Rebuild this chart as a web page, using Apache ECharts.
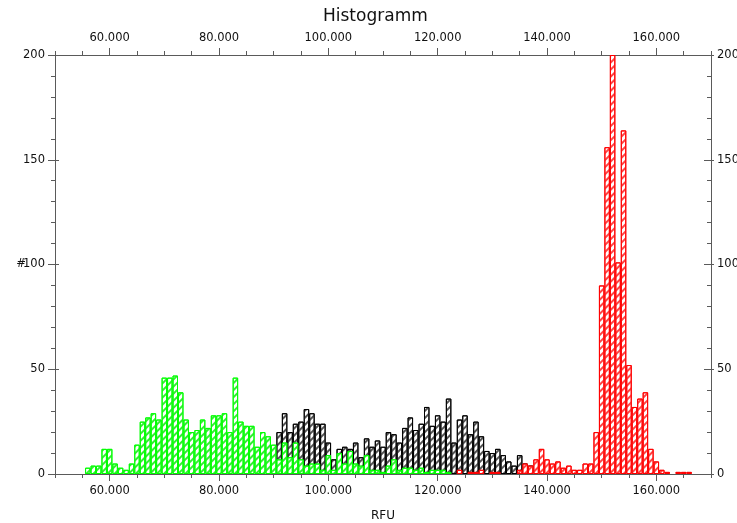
<!DOCTYPE html>
<html>
<head>
<meta charset="utf-8">
<script src="https://cdn.jsdelivr.net/npm/echarts@6/dist/echarts.min.js"></script>
<style>
  html, body { margin: 0; padding: 0; background: #fff; }
  #chart { width: 737px; height: 523px; }
</style>
</head>
<body>
<div id="chart"></div>
<script>
// Histogram of RFU values, bins of 1.000 RFU, three populations.
const binWidth = 1000;

const greenStart = 56000;
const greenCounts = [3, 4, 4, 12, 12, 5, 3, 2, 5, 14,
  25, 27, 29, 26, 46, 46, 47, 39, 26, 20,
  21, 26, 22, 28, 28, 29, 20, 46, 25, 23,
  23, 13, 20, 18, 14, 7, 15, 8, 15, 7,
  4, 5, 5, 2, 9, 2, 10, 5, 11, 5,
  4, 9, 2, 2, 1, 4, 7, 2, 3, 3,
  2, 3, 1, 2, 2, 2, 1];

const blackStart = 91000;
const blackCounts = [20, 29, 20, 24, 25, 31, 29, 24, 24, 15,
  7, 12, 13, 12, 15, 8, 17, 13, 16, 13,
  20, 19, 15, 22, 27, 21, 24, 32, 23, 28,
  25, 36, 15, 26, 28, 19, 25, 18, 11, 10,
  12, 9, 6, 4, 9, 5, 4];

const redStart = 124000;
const redCounts = [2, 0, 1, 1, 2, 0, 1, 1, 0, 0,
  0, 2, 5, 4, 7, 12, 7, 5, 6, 3,
  4, 2, 2, 5, 5, 20, 90, 156, 200, 101,
  164, 52, 32, 36, 39, 12, 6, 2, 1, 0,
  1, 1, 1];

const xMin = 50000, xMax = 170000;
const xLabelValues = [60000, 80000, 100000, 120000, 140000, 160000];
const yMin = 0, yMax = 200, yStep = 50;

const grid = { left: 55, right: 26, top: 55, bottom: 49, outerBoundsMode: 'none', containLabel: false };
const plotWidth = 737 - grid.left - grid.right;
const barPx = plotWidth * binWidth / (xMax - xMin);

function toPairs(start, counts) {
  const out = [];
  counts.forEach((c, i) => { if (c > 0) out.push([start + i * binWidth, c]); });
  return out;
}

function fmtDE(v) {
  return String(v).replace(/\B(?=(\d{3})+(?!\d))/g, '.');
}

const font = 'DejaVu Sans';
const axisColor = '#5a5a5a';
const textColor = '#111';

function hatch(border, line) {
  return {
    color: '#ffffff',
    borderColor: border,
    borderWidth: 1,
    decal: {
      symbol: 'rect',
      symbolSize: 1,
      dashArrayX: [1, 0],
      dashArrayY: [1.4, 2.4],
      rotation: -Math.PI / 4,
      color: line
    }
  };
}

function minorX(position) {
  return {
    type: 'value', position: position, min: xMin, max: xMax, interval: 5000,
    axisLine: { show: true, onZero: false, lineStyle: { color: axisColor, width: 1 } },
    axisTick: { show: true, length: 4, lineStyle: { color: axisColor } },
    axisLabel: { show: false },
    splitLine: { show: false }
  };
}
function majorX(position, withName) {
  const ax = {
    type: 'value', position: position, min: xMin, max: xMax, interval: 5000,
    axisLine: { show: false, onZero: false },
    axisTick: { show: true, length: 7, customValues: xLabelValues, lineStyle: { color: axisColor } },
    axisLabel: {
      show: true, customValues: xLabelValues, margin: 11,
      formatter: fmtDE, color: textColor, fontFamily: font, fontSize: 11.5
    },
    splitLine: { show: false }
  };
  if (withName) {
    ax.name = 'RFU';
    ax.nameLocation = 'middle';
    ax.nameGap = 36;
    ax.nameMoveOverlap = false;
    ax.nameTextStyle = { color: textColor, fontFamily: font, fontSize: 12 };
  }
  return ax;
}
// Count axis: ticks on the side given by tickInside, labels at margin.
function mainY(position, margin, tickInside, withName) {
  const ax = {
    type: 'value', position: position, min: yMin, max: yMax, interval: yStep,
    axisLine: { show: true, onZero: false, lineStyle: { color: axisColor, width: 1 } },
    axisTick: { show: true, inside: tickInside, length: 7, lineStyle: { color: axisColor } },
    minorTick: { show: true, splitNumber: 5, length: 4, lineStyle: { color: axisColor } },
    axisLabel: { show: true, margin: margin, color: textColor, fontFamily: font, fontSize: 11.5 },
    splitLine: { show: false }
  };
  if (withName) {
    ax.name = '#';
    ax.nameLocation = 'middle';
    ax.nameGap = 29;
    ax.nameRotate = 0;
    ax.nameMoveOverlap = false;
    ax.nameTextStyle = { color: textColor, fontFamily: font, fontSize: 11.5, align: 'right' };
  }
  return ax;
}
// Short opposite-side stubs so the major ticks cross the axis line.
function stubY(position, inside, len) {
  return {
    type: 'value', position: position, min: yMin, max: yMax, interval: yStep,
    axisLine: { show: false },
    axisTick: { show: true, inside: inside, length: len, lineStyle: { color: axisColor } },
    axisLabel: { show: false },
    splitLine: { show: false }
  };
}

const chart = echarts.init(document.getElementById('chart'), null, { renderer: 'canvas' });
chart.setOption({
  animation: false,
  backgroundColor: '#ffffff',
  title: {
    text: 'Histogramm', left: 318, top: 3,
    textStyle: { color: textColor, fontFamily: font, fontSize: 17, fontWeight: 'normal' }
  },
  grid: grid,
  xAxis: [minorX('bottom'), majorX('bottom', true), minorX('top'), majorX('top', false)],
  yAxis: [
    mainY('left', 10, false, true),
    mainY('right', 6, true, false),
    stubY('left', true, 4),
    stubY('right', false, 3)
  ],
  series: [
    { name: 'B', type: 'bar', xAxisIndex: 0, yAxisIndex: 0, barWidth: barPx, barGap: '-100%',
      itemStyle: hatch('#000000', '#555555'), data: toPairs(blackStart, blackCounts) },
    { name: 'G', type: 'bar', xAxisIndex: 0, yAxisIndex: 0, barWidth: barPx, barGap: '-100%',
      itemStyle: hatch('#00ff00', '#33ee33'), data: toPairs(greenStart, greenCounts) },
    { name: 'R', type: 'bar', xAxisIndex: 0, yAxisIndex: 0, barWidth: barPx, barGap: '-100%',
      itemStyle: hatch('#ff0000', '#ff4444'), data: toPairs(redStart, redCounts) }
  ]
});
</script>
</body>
</html>
